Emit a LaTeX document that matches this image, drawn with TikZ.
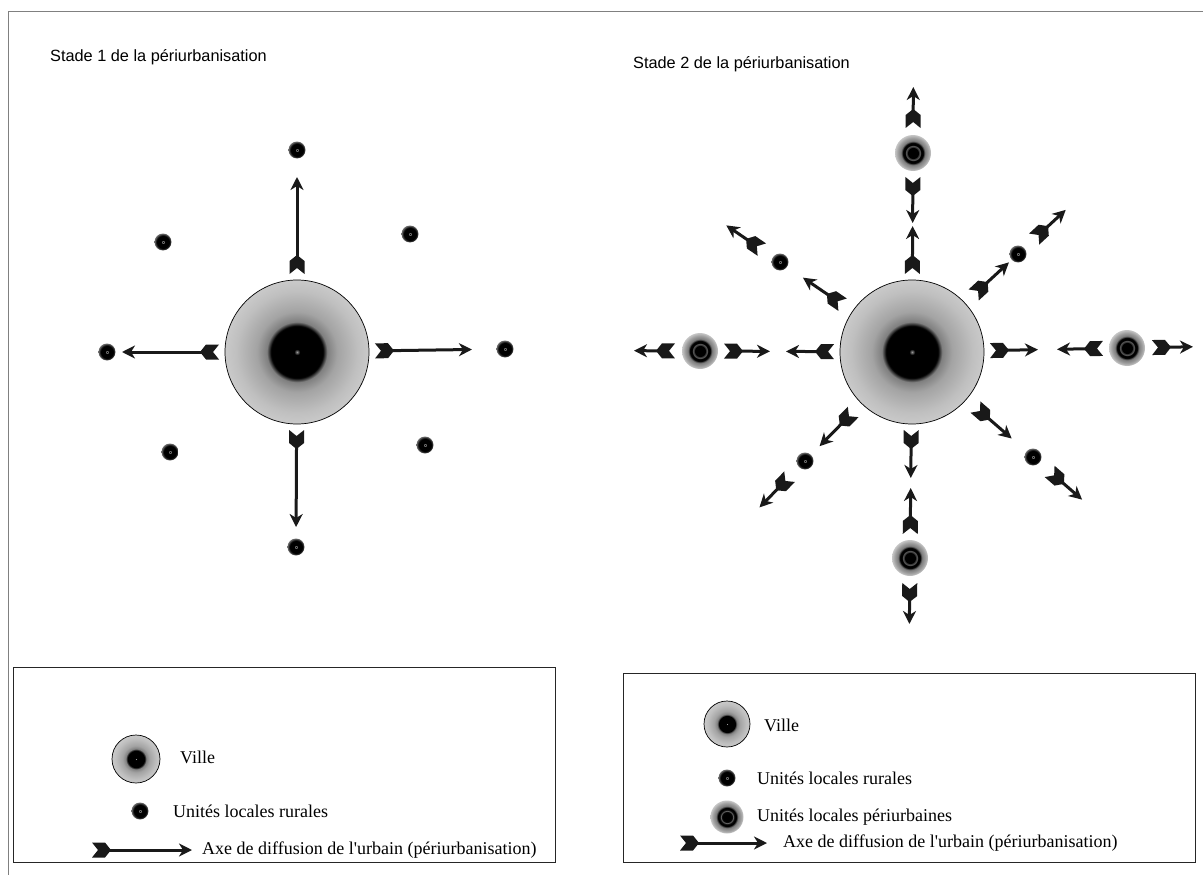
\documentclass[tikz,border=0pt]{standalone}
\usepackage{fontspec}
\setmainfont{Liberation Serif}
\newfontfamily\titrefont{Liberation Sans}
\usetikzlibrary{calc,arrows.meta}

% 箭尾(羽毛)
\pgfdeclarearrow{
  name = Fletch,
  setup code = {
    \pgfarrowssettipend{0pt}
    \pgfarrowssetlineend{-12pt}
    \pgfarrowssetbackend{-19pt}
    \pgfarrowshullpoint{0pt}{7.5pt}
    \pgfarrowshullpoint{0pt}{-7.5pt}
    \pgfarrowshullpoint{-19pt}{0pt}
  },
  drawing code = {
    \pgfpathmoveto{\pgfpoint{0pt}{7.5pt}}
    \pgfpathlineto{\pgfpoint{-6pt}{0pt}}
    \pgfpathlineto{\pgfpoint{0pt}{-7.5pt}}
    \pgfpathlineto{\pgfpoint{-13pt}{-7.5pt}}
    \pgfpathlineto{\pgfpoint{-19pt}{0pt}}
    \pgfpathlineto{\pgfpoint{-13pt}{7.5pt}}
    \pgfpathclose
    \pgfusepathqfill
  }
}

% 渐变 (25bp = 圆周)
\pgfdeclareradialshading{villeshade}{\pgfpoint{0bp}{0bp}}{color(0bp)=(black!40); color(1bp)=(black); color(9bp)=(black); color(10.5bp)=(black!50); color(14bp)=(black!36); color(21bp)=(black!25); color(25bp)=(black!21); color(50bp)=(black!21)}
\pgfdeclareradialshading{ruraleshade}{\pgfpoint{0bp}{0bp}}{color(0bp)=(black); color(2.5bp)=(black!45); color(4.5bp)=(black); color(19bp)=(black); color(25bp)=(black!55); color(50bp)=(black!55)}
\pgfdeclareradialshading{periurbshade}{\pgfpoint{0bp}{0bp}}{color(0bp)=(black); color(7.5bp)=(black); color(9.5bp)=(black!55); color(11bp)=(black); color(14bp)=(black); color(16.5bp)=(black!52); color(21bp)=(black!38); color(25bp)=(black!22); color(50bp)=(black!22)}

\tikzset{
  ville/.style={circle, inner sep=0pt, minimum size=#1, shading=villeshade, draw=black, line width=0.7pt},
  ville/.default=144pt,
  rurale/.style={circle, inner sep=0pt, minimum size=17pt, shading=ruraleshade},
  periurb/.style={circle, inner sep=0pt, minimum size=#1, shading=periurbshade},
  periurb/.default=36pt,
  axe/.style={line width=3pt, draw=black!90, arrows={Fletch-Stealth[length=13pt,width=13pt,inset=4pt]}},
  titre/.style={anchor=west, inner sep=0pt, font=\titrefont\fontsize{16.3}{19}\selectfont},
  legende/.style={anchor=west, inner sep=0pt, font=\fontsize{18}{21}\selectfont},
}

\begin{document}
\begin{tikzpicture}[x=1pt,y=-1pt]

    \useasboundingbox (0,0) rectangle (1203,875);
    % 外框
    \draw[black!50, line width=1pt] (8,875) -- (8,12) -- (1203,12);

    % 标题
    \node[titre] (t1) at (50,57) {Stade 1 de la périurbanisation};
    \node[titre] (t2) at (633,64) {Stade 2 de la périurbanisation};

    % 第一阶段
    \node[ville] (v1) at (297,352) {};
    \node[rurale] (r1n) at (297,150) {};
    \node[rurale] (r1w) at (107,352) {};
    \node[rurale] (r1e) at (505,349) {};
    \node[rurale] (r1s) at (296,547) {};
    \node[rurale] (r1a) at (163,242) {};
    \node[rurale] (r1b) at (410,234) {};
    \node[rurale] (r1c) at (170,452) {};
    \node[rurale] (r1d) at (425,445) {};
    \foreach \u in {r1n,r1w,r1e,r1s} {
        \coordinate (\u-t) at ($(v1.center)!78pt!(\u.center)$);
        \coordinate (\u-h) at ($(v1.center)!175pt!(\u.center)$);
        \draw[axe] (\u-t) -- (\u-h);
    }

    % 第二阶段
    \node[ville] (v2) at (912,352) {};
    \node[periurb] (pn) at (913,153) {};
    \node[periurb] (pw) at (700,351) {};
    \node[periurb] (pe) at (1127,348) {};
    \node[periurb] (ps) at (910,558) {};
    \node[rurale] (r2a) at (780,262) {};
    \node[rurale] (r2b) at (1018,254) {};
    \node[rurale] (r2c) at (805,461) {};
    \node[rurale] (r2d) at (1033,457) {};
    % 城市 -> 城郊单元
    \foreach \u in {pn,pw,pe,ps} {
        \coordinate (\u-t1) at ($(v2.center)!78pt!(\u.center)$);
        \coordinate (\u-h1) at ($(v2.center)!126pt!(\u.center)$);
        \coordinate (\u-t2) at ($(\u.center)!24pt!(v2.center)$);
        \coordinate (\u-h2) at ($(\u.center)!70pt!(v2.center)$);
        \coordinate (\u-t3) at ($(\u.center)!-25pt!(v2.center)$);
        \coordinate (\u-h3) at ($(\u.center)!-66pt!(v2.center)$);
        \draw[axe] (\u-t1) -- (\u-h1);
        \draw[axe] (\u-t2) -- (\u-h2);
        \draw[axe] (\u-t3) -- (\u-h3);
    }
    % 对角方向
    \foreach \u in {r2a,r2b,r2c,r2d} {
        \coordinate (\u-t1) at ($(v2.center)!84pt!(\u.center)$);
        \coordinate (\u-h1) at ($(v2.center)!132pt!(\u.center)$);
        \coordinate (\u-t2) at ($(\u.center)!-22pt!(v2.center)$);
        \coordinate (\u-h2) at ($(\u.center)!-65pt!(v2.center)$);
        \draw[axe] (\u-t1) -- (\u-h1);
        \draw[axe] (\u-t2) -- (\u-h2);
    }

    % 图例 1
    \draw[black!85, line width=1pt] (13,667) rectangle (555,862);
    \node[ville=48pt] (lv1) at (136,759) {};
    \node[legende] (lv1-txt) at (180,757) {Ville};
    \node[rurale] (lr1) at (140,811) {};
    \node[legende] (lr1-txt) at (173,811) {Unités locales rurales};
    \coordinate (la1-t) at (92,850);
    \coordinate (la1-h) at (192,850);
    \draw[axe] (la1-t) -- (la1-h);
    \node[legende] (la1-txt) at (202,850) {Axe de diffusion de l\textquotesingle urbain (périurbanisation)};

    % 图例 2
    \draw[black!85, line width=1pt] (623,673) rectangle (1195,862);
    \node[ville=46pt] (lv2) at (727,724) {};
    \node[legende] (lv2-txt) at (764,725) {Ville};
    \node[rurale] (lr2) at (727,778) {};
    \node[legende] (lr2-txt) at (757,778) {Unités locales rurales};
    \node[periurb=33pt] (lp2) at (727,817) {};
    \node[legende] (lp2-txt) at (757,817) {Unités locales périurbaines};
    \coordinate (la2-t) at (680,843);
    \coordinate (la2-h) at (767,843);
    \draw[axe] (la2-t) -- (la2-h);
    \node[legende] (la2-txt) at (783,843) {Axe de diffusion de l\textquotesingle urbain (périurbanisation)};

\end{tikzpicture}
\end{document}
